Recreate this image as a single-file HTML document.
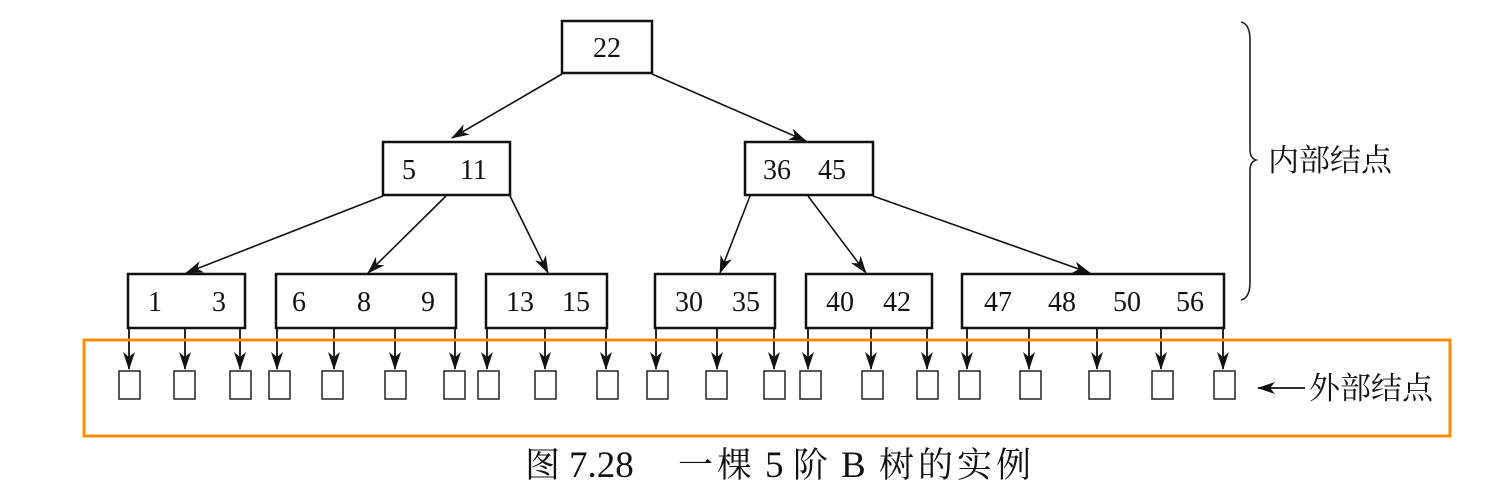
<!DOCTYPE html>
<html><head><meta charset="utf-8"><style>
html,body{margin:0;padding:0;background:#fff;}
svg{display:block;}
text{font-family:"Liberation Serif","Noto Serif CJK SC",serif;fill:#111;}
</style></head><body>
<svg width="1492" height="500" viewBox="0 0 1492 500" xmlns="http://www.w3.org/2000/svg">
<defs>
<marker id="a" markerWidth="18" markerHeight="12" refX="17" refY="6" orient="auto" markerUnits="userSpaceOnUse">
<path d="M0,0 L18,6 L0,12 L5,6 Z" fill="#111"/></marker>
<marker id="b" markerWidth="18" markerHeight="12" refX="17" refY="6" orient="auto" markerUnits="userSpaceOnUse">
<path d="M0,0 L18,6 L0,12 L5,6 Z" fill="#111"/></marker>
</defs>
<g fill="none" stroke="#111" stroke-width="2.5">
<rect x="562" y="21" width="90" height="52"/>
<rect x="383" y="142" width="127" height="53"/>
<rect x="745" y="142" width="128" height="53"/>
<rect x="128" y="274" width="117" height="54"/>
<rect x="276" y="274" width="180" height="54"/>
<rect x="486" y="274" width="121" height="54"/>
<rect x="655" y="274" width="120" height="54"/>
<rect x="806" y="274" width="126" height="54"/>
<rect x="962" y="274" width="262" height="54"/>
</g>
<g stroke="#111" stroke-width="1.6" fill="none" marker-end="url(#a)">
<line x1="562" y1="74" x2="452" y2="138"/>
<line x1="652" y1="74" x2="806" y2="141"/>
<line x1="383" y1="196" x2="186" y2="273"/>
<line x1="446" y1="196" x2="368" y2="273"/>
<line x1="510" y1="196" x2="548" y2="273"/>
<line x1="750" y1="196" x2="720" y2="273"/>
<line x1="808" y1="196" x2="866" y2="273"/>
<line x1="873" y1="196" x2="1090" y2="273"/>
</g>
<g stroke="#111" stroke-width="1.8" fill="none" marker-end="url(#b)">
<line x1="129" y1="328" x2="129" y2="369"/>
<line x1="185" y1="328" x2="185" y2="369"/>
<line x1="240" y1="328" x2="240" y2="369"/>
<line x1="277" y1="328" x2="277" y2="369"/>
<line x1="334" y1="328" x2="334" y2="369"/>
<line x1="395" y1="328" x2="395" y2="369"/>
<line x1="455" y1="328" x2="455" y2="369"/>
<line x1="487" y1="328" x2="487" y2="369"/>
<line x1="545" y1="328" x2="545" y2="369"/>
<line x1="606" y1="328" x2="606" y2="369"/>
<line x1="656" y1="328" x2="656" y2="369"/>
<line x1="717" y1="328" x2="717" y2="369"/>
<line x1="774" y1="328" x2="774" y2="369"/>
<line x1="808" y1="328" x2="808" y2="369"/>
<line x1="871" y1="328" x2="871" y2="369"/>
<line x1="927" y1="328" x2="927" y2="369"/>
<line x1="967" y1="328" x2="967" y2="369"/>
<line x1="1029" y1="328" x2="1029" y2="369"/>
<line x1="1097" y1="328" x2="1097" y2="369"/>
<line x1="1161" y1="328" x2="1161" y2="369"/>
<line x1="1223" y1="328" x2="1223" y2="369"/>
</g>
<g fill="#fff" stroke="#222" stroke-width="1.5">
<rect x="119" y="371" width="21" height="28"/>
<rect x="174" y="371" width="21" height="28"/>
<rect x="230" y="371" width="21" height="28"/>
<rect x="269" y="371" width="21" height="28"/>
<rect x="322" y="371" width="21" height="28"/>
<rect x="385" y="371" width="21" height="28"/>
<rect x="444" y="371" width="21" height="28"/>
<rect x="478" y="371" width="21" height="28"/>
<rect x="535" y="371" width="21" height="28"/>
<rect x="597" y="371" width="21" height="28"/>
<rect x="647" y="371" width="21" height="28"/>
<rect x="706" y="371" width="21" height="28"/>
<rect x="764" y="371" width="21" height="28"/>
<rect x="800" y="371" width="21" height="28"/>
<rect x="862" y="371" width="21" height="28"/>
<rect x="917" y="371" width="21" height="28"/>
<rect x="959" y="371" width="21" height="28"/>
<rect x="1020" y="371" width="21" height="28"/>
<rect x="1089" y="371" width="21" height="28"/>
<rect x="1152" y="371" width="21" height="28"/>
<rect x="1214" y="371" width="21" height="28"/>
</g>
<g font-size="28">
<text x="607" y="57" text-anchor="middle">22</text>
<text x="402" y="179">5</text><text x="460" y="179">11</text>
<text x="763" y="179">36</text><text x="818" y="179">45</text>
<text x="148" y="311">1</text><text x="212" y="311">3</text>
<text x="292" y="311">6</text><text x="357" y="311">8</text><text x="421" y="311">9</text>
<text x="506" y="311">13</text><text x="562" y="311">15</text>
<text x="675" y="311">30</text><text x="732" y="311">35</text>
<text x="826" y="311">40</text><text x="883" y="311">42</text>
<text x="984" y="311">47</text><text x="1048" y="311">48</text><text x="1113" y="311">50</text><text x="1176" y="311">56</text>
</g>
<path d="M1241,22 Q1250,24 1250,40 L1250,150 Q1250,158 1256,160 Q1250,162 1250,170 L1250,282 Q1250,298 1241,300" fill="none" stroke="#222" stroke-width="1.6"/>
<text x="1268" y="171" font-size="31">内部结点</text>
<line x1="1305" y1="388" x2="1258" y2="388" stroke="#111" stroke-width="1.8" marker-end="url(#a)"/>
<text x="1309" y="399" font-size="31">外部结点</text>
<rect x="84" y="340" width="1366" height="96" fill="none" stroke="#ff8c00" stroke-width="3"/>
<g font-size="35">
<text x="525" y="477">图</text>
<text x="569" y="477" font-size="37">7.28</text>
<text x="678" y="477" textLength="74">一棵</text>
<text x="765" y="477" font-size="37">5</text>
<text x="793" y="477">阶</text>
<text x="841" y="477" font-size="37">B</text>
<text x="879" y="477" textLength="152">树的实例</text>
</g>
</svg>
</body></html>
